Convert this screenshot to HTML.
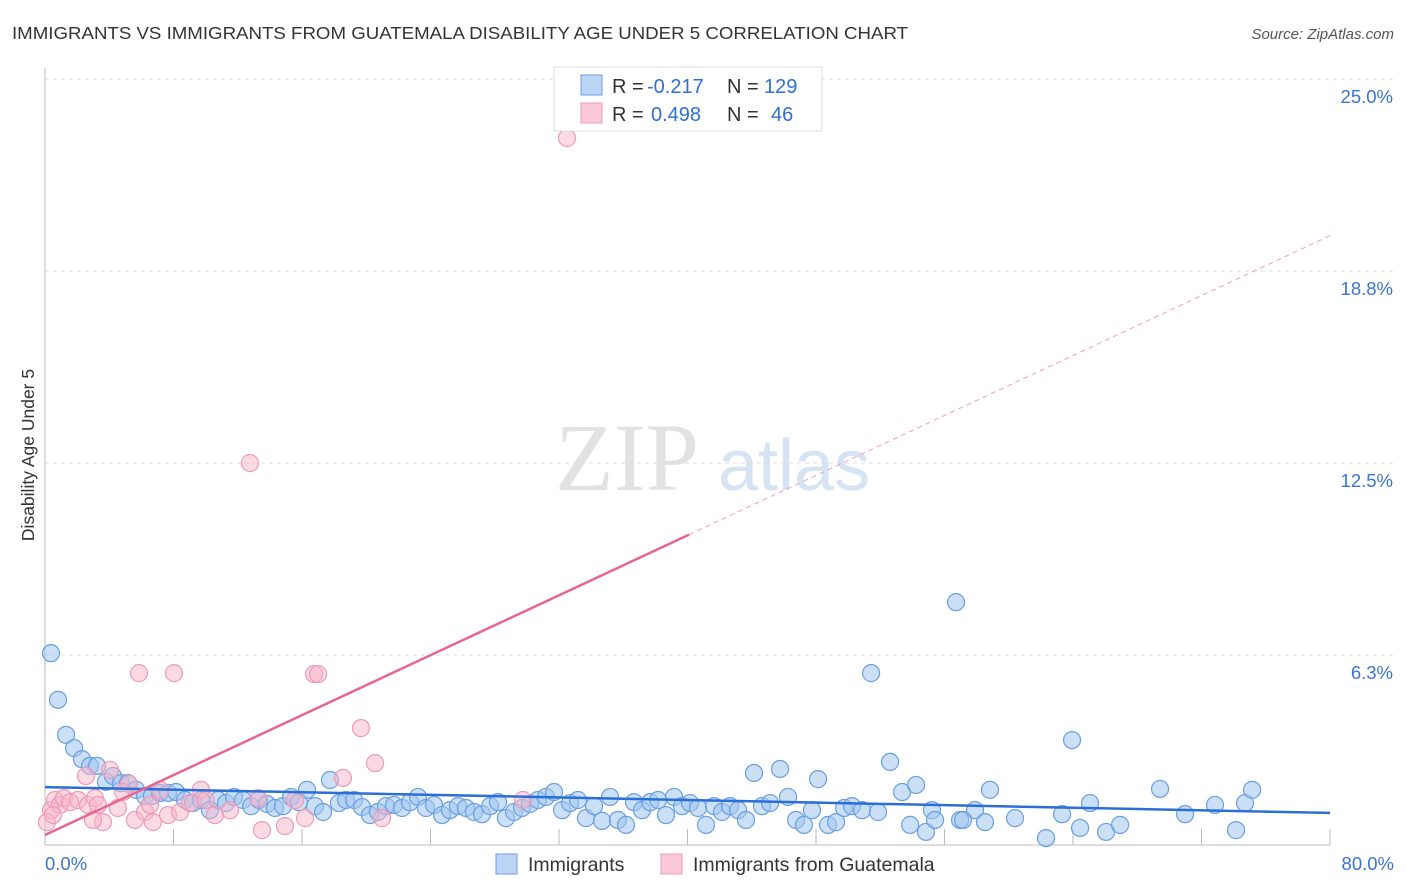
<!DOCTYPE html>
<html><head><meta charset="utf-8"><style>
body{margin:0;background:#fff;font-family:"Liberation Sans",sans-serif;}
svg{display:block}
</style></head><body>
<svg width="1406" height="892" viewBox="0 0 1406 892" xmlns="http://www.w3.org/2000/svg">
<text x="12" y="39" font-size="17.5" fill="#333" textLength="896" lengthAdjust="spacingAndGlyphs">IMMIGRANTS VS IMMIGRANTS FROM GUATEMALA DISABILITY AGE UNDER 5 CORRELATION CHART</text>
<text x="1394" y="39" font-size="15" fill="#555" font-style="italic" text-anchor="end">Source: ZipAtlas.com</text>
<text transform="translate(34,455) rotate(-90)" font-size="17.5" fill="#333" text-anchor="middle">Disability Age Under 5</text>
<g>
<text x="555" y="490" font-size="96" font-family="Liberation Serif,serif" fill="#e2e2e2">ZIP</text>
<text x="718" y="490" font-size="72" fill="#d6e3f3">atlas</text>
</g>
<g id="grid"></g>
<g id="axes"></g>
<g id="pts"></g>
<g id="trend"></g>
<g>
<rect x="554" y="67" width="268" height="64" fill="#fff" stroke="#ddd"/>
<rect x="581" y="75" width="21" height="20" fill="#bcd5f5" stroke="#6a9fe0"/>
<rect x="581" y="103" width="21" height="20" fill="#fbcad8" stroke="#f09ab5"/>
<g font-size="20">
<text x="612" y="93" fill="#333">R =</text><text x="647" y="93" fill="#2f6fd6">-0.217</text>
<text x="727" y="93" fill="#333">N =</text><text x="764" y="93" fill="#2f6fd6">129</text>
</g>
<g font-size="20">
<text x="612" y="121" fill="#333">R =</text><text x="651" y="121" fill="#2f6fd6">0.498</text>
<text x="727" y="121" fill="#333">N =</text><text x="771" y="121" fill="#2f6fd6">46</text>
</g>
</g>
<g>
<rect x="496" y="854" width="21" height="20" fill="#bcd5f5" stroke="#6a9fe0"/>
<text x="528" y="871" font-size="19.5" fill="#333">Immigrants</text>
<rect x="661" y="854" width="21" height="20" fill="#fbcad8" stroke="#f09ab5"/>
<text x="693" y="871" font-size="19.5" fill="#333">Immigrants from Guatemala</text>
</g>
</svg>
<script>
const yTicks=[25,18.75,12.5,6.25];
const yTickLabels=["25.0%","18.8%","12.5%","6.3%"];
const xTickLabels=["0.0%","80.0%"];
const blueX=[0.37,0.81,1.31,1.81,2.30,2.80,3.24,3.80,4.23,4.73,5.17,5.67,6.23,6.66,7.16,7.66,8.16,8.72,9.21,9.71,10.27,10.77,11.27,11.77,12.33,12.83,13.32,13.82,14.32,14.82,15.32,15.81,16.31,16.81,17.31,17.74,18.30,18.74,19.24,19.74,20.23,20.73,21.23,21.73,22.23,22.72,23.22,23.72,24.22,24.72,25.21,25.71,26.21,26.71,27.21,27.71,28.20,28.70,29.20,29.70,30.20,30.69,31.19,31.69,32.19,32.69,33.18,33.68,34.18,34.68,35.18,35.67,36.17,36.67,37.17,37.67,38.17,38.66,39.16,39.66,40.16,40.66,41.15,41.65,42.15,42.65,43.15,43.64,44.14,44.64,45.14,45.76,46.26,46.76,47.25,47.75,48.13,48.75,49.25,49.75,50.24,50.87,51.43,51.86,52.61,53.36,53.86,54.23,54.85,55.22,56.72,56.97,57.90,58.52,58.83,60.39,63.32,63.94,64.44,65.06,66.06,66.93,69.42,70.98,72.84,74.15,74.71,75.15,62.32,55.41,57.15];
const blueY=[6.31,4.79,3.65,3.22,2.86,2.64,2.64,2.12,2.31,2.08,2.08,1.86,1.66,1.66,1.76,1.76,1.79,1.53,1.43,1.53,1.20,1.53,1.43,1.63,1.53,1.33,1.53,1.40,1.27,1.33,1.63,1.46,1.86,1.33,1.14,2.18,1.43,1.53,1.53,1.30,1.04,1.14,1.33,1.37,1.27,1.46,1.63,1.27,1.37,1.04,1.20,1.33,1.27,1.14,1.07,1.33,1.46,0.94,1.14,1.27,1.40,1.53,1.63,1.79,1.20,1.43,1.53,0.94,1.33,0.85,1.63,0.88,0.72,1.46,1.20,1.46,1.53,1.04,1.63,1.33,1.43,1.27,0.72,1.33,1.14,1.33,1.20,0.88,2.41,1.33,1.43,2.54,1.63,0.88,0.72,1.20,2.21,0.72,0.81,1.27,1.33,1.20,5.66,1.14,2.77,1.79,0.72,2.02,0.49,1.20,7.97,0.88,1.20,0.81,1.86,0.94,1.07,3.48,0.62,1.43,0.49,0.72,1.89,1.07,1.37,0.55,1.43,1.86,0.29,0.88,0.88];
const pinkX=[32.50,12.76,5.85,8.03,16.75,17.0,19.67,20.55,18.55,5.23,2.55,4.05,9.71,0.37,0.62,0.93,1.18,1.56,2.05,2.68,3.11,3.61,2.99,4.54,4.86,5.60,6.23,6.72,7.16,7.66,8.41,9.03,10.0,10.58,13.26,13.51,14.94,16.19,29.76,20.98,0.12,0.5,3.30,11.52,15.57,6.54];
const pinkY=[23.08,12.50,5.66,5.66,5.63,5.63,3.87,2.73,2.25,2.05,2.31,2.51,1.86,1.20,1.53,1.37,1.59,1.46,1.53,1.37,1.59,0.81,0.88,1.27,1.79,0.88,1.14,0.81,1.86,1.04,1.14,1.43,1.53,1.04,1.59,0.55,0.68,0.94,1.53,0.94,0.81,1.04,1.37,1.20,1.53,1.37];
const blueTrend=[1.95,1.11];
const pinkTrend=[0.39,19.9];
const pinkSolidEnd=40.1;
const NS="http://www.w3.org/2000/svg";
const X0=45,X1=1330,Y0=847,PY=30.72;
const sx=v=>X0+v/80*(X1-X0);
const sy=v=>Y0-v*PY;
function mk(tag,attrs,parent){const e=document.createElementNS(NS,tag);for(const k in attrs)e.setAttribute(k,attrs[k]);parent.appendChild(e);return e;}
const grid=document.getElementById('grid'),axes=document.getElementById('axes'),pts=document.getElementById('pts'),tr=document.getElementById('trend');
yTicks.forEach((t,i)=>{
 const l=mk('line',{x1:X0,x2:1395,y1:sy(t),y2:sy(t),stroke:'#ddd','stroke-dasharray':'4,4'},grid);
 
 
 const tx=mk('text',{x:1393,y:sy(t)+24,'font-size':18.5,fill:'#3a74d6','text-anchor':'end'},axes);
 tx.textContent=yTickLabels[i];
 
 
});
let a=mk('line',{x1:X0,x2:X0,y1:68,y2:845,stroke:'#bbb'},axes);


a=mk('line',{x1:X0,x2:X1,y1:845,y2:845,stroke:'#bbb'},axes);


for(let i=1;i<=10;i++){
 const x=sx(i*8);
 const t=mk('line',{x1:x,x2:x,y1:829,y2:845,stroke:'#bbb'},axes);
 
 
}
[[0,'start',45],[80,'end',1394]].forEach((d,i)=>{
 const t=mk('text',{x:d[2],y:870,'font-size':18.5,fill:'#3a74d6','text-anchor':d[1]},axes);
 t.textContent=xTickLabels[i];
 
 
});
blueX.forEach((v,i)=>{
 const c=mk('circle',{cx:sx(v),cy:sy(blueY[i]),r:8.5,fill:'rgba(160,196,240,0.55)',stroke:'#6a9fe0','stroke-width':1.2},pts);
 
 
});
pinkX.forEach((v,i)=>{
 const c=mk('circle',{cx:sx(v),cy:sy(pinkY[i]),r:8.5,fill:'rgba(248,182,202,0.5)',stroke:'#f09ab5','stroke-width':1.2},pts);
 
 
});
const py=x=>pinkTrend[0]+(pinkTrend[1]-pinkTrend[0])*x/80;
let l=mk('line',{x1:sx(0),y1:sy(blueTrend[0]),x2:sx(80),y2:sy(blueTrend[1]),stroke:'#2a6fd8','stroke-width':2.5},tr);


l=mk('line',{x1:sx(0),y1:sy(py(0)),x2:sx(pinkSolidEnd),y2:sy(py(pinkSolidEnd)),stroke:'#e8668e','stroke-width':2.5},tr);


l=mk('line',{x1:sx(pinkSolidEnd),y1:sy(py(pinkSolidEnd)),x2:sx(80),y2:sy(py(80)),stroke:'#eea0b8','stroke-width':1,'stroke-dasharray':'5,4'},tr);


</script>
</body></html>
